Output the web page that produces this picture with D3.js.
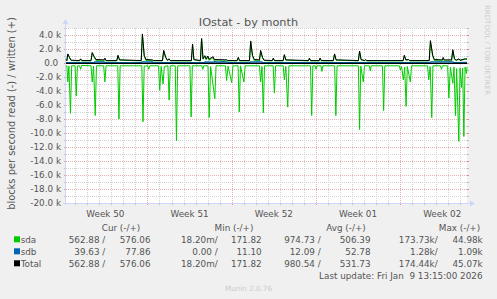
<!DOCTYPE html>
<html><head><meta charset="utf-8">
<script src="https://cdn.jsdelivr.net/npm/d3@7"></script>
<style>
body{margin:0;background:#F0F0F0}
svg{display:block}
text{font-family:"DejaVu Sans",sans-serif;fill:#555;white-space:pre}
</style></head>
<body><svg id="c" width="497" height="299"></svg>
<script>
// ---------- DATA (time in days since Sun 2025-12-07 00:00, values in k blocks/s) ----------
const weekLabels = ["Week 50","Week 51","Week 52","Week 01","Week 02"];
const weekMidDays = [3.5,10.5,17.5,24.5,31.5];
const yTickValues = [4,2,0,-2,-4,-6,-8,-10,-12,-14,-16,-18,-20];
const yTickLabels = ["4.0 k","2.0 k","0.0 ","-2.0 k","-4.0 k","-6.0 k","-8.0 k","-10.0 k","-12.0 k","-14.0 k","-16.0 k","-18.0 k","-20.0 k"];

// sda read (drawn negative)
const sdaRead = [[0.23,0.45],[0.30,0.40],[0.38,2.7],[0.47,0.45],[0.60,7.2],[0.70,0.40],[0.98,0.40],[1.08,4.7],[1.18,0.40],[1.36,0.40],[1.44,0.9],[1.52,0.35],
[2.31,0.40],[2.41,2.7],[2.52,0.45],[2.66,7.5],[2.76,0.40],[3.36,0.40],[3.46,2.7],[3.56,0.40],[4.53,0.40],[4.63,8.0],[4.73,0.40],
[6.53,0.40],[6.63,8.4],[6.73,0.45],[7.02,0.4],[7.10,0.9],[7.18,0.40],[7.92,0.40],[8.02,3.9],[8.14,0.5],[8.30,3.0],[8.40,0.5],[8.70,0.4],[8.80,5.3],[8.90,0.4],[9.31,0.40],[9.41,11.1],[9.51,0.40],
[10.53,0.40],[10.63,7.7],[10.73,0.40],[11.52,0.4],[11.60,0.9],[11.68,0.4],[12.03,0.40],[12.13,7.8],[12.25,0.5],[12.60,5.1],[12.70,0.4],[13.48,0.4],[13.58,2.5],[13.70,0.45],[14.00,2.8],[14.10,0.4],[14.53,0.4],[14.63,7.0],[14.73,0.4],[15.02,2.7],[15.12,0.4],
[16.31,0.4],[16.41,2.7],[16.52,0.5],[16.63,7.1],[16.73,0.4],[17.45,0.4],[17.55,4.3],[17.65,0.4],[18.28,0.4],[18.38,2.4],[18.50,0.5],[18.66,6.3],[18.76,0.4],
[20.55,0.4],[20.65,7.5],[20.75,0.4],[20.94,0.4],[21.02,0.9],[21.10,0.4],[21.42,0.4],[21.50,1.2],[21.58,0.4],[22.56,0.4],[22.66,7.5],[22.76,0.4],[24.53,0.4],[24.63,9.5],[24.73,0.45],[24.94,2.7],[25.04,0.4],[25.44,0.4],[25.52,1.1],[25.60,0.4],[26.53,0.4],[26.63,6.8],[26.73,0.4],
[27.94,0.4],[28.02,1.0],[28.12,0.5],[28.27,2.4],[28.38,0.6],[28.50,6.2],[28.60,0.5],[28.85,2.7],[28.95,0.4],
[30.28,0.4],[30.38,2.4],[30.50,0.5],[30.63,7.8],[30.73,0.4],[31.36,0.4],[31.44,0.9],[31.52,0.4],[31.95,0.4],[32.05,5.0],[32.18,0.6],[32.38,2.9],[32.48,0.6],[32.60,7.5],[32.70,0.8],[32.88,11.2],[32.98,0.7],[33.10,3.5],[33.20,0.7],[33.30,10.5],[33.40,0.6],[33.52,1.5],[33.56,0.56]];

// sda written (positive)
const sdaWrite = [[0.23,0.45],[0.30,0.30],[0.38,1.25],[0.52,0.75],[0.65,0.35],[1.36,0.30],[1.44,0.55],[1.54,0.30],[2.31,0.30],[2.41,1.45],[2.56,0.85],[2.72,0.35],[3.38,0.30],[3.46,0.55],[3.56,0.30],[4.45,0.30],[4.55,1.05],[4.68,0.40],
[6.48,0.30],[6.58,4.05],[6.73,0.95],[6.88,0.35],[8.25,0.30],[8.35,1.75],[8.52,0.75],[8.66,0.35],[8.80,0.55],[8.90,0.30],[10.65,0.30],[10.75,2.65],[10.86,0.45],[11.40,0.30],[11.50,3.45],[11.62,0.55],[11.77,0.95],[11.88,0.45],[12.02,0.85],[12.12,0.40],[12.46,0.75],[12.56,0.30],[14.45,0.30],[14.55,0.75],[14.65,0.30],
[15.48,0.30],[15.58,3.05],[15.73,0.95],[15.88,0.35],[16.31,0.30],[16.41,1.65],[16.56,0.75],[16.70,0.35],[17.38,0.30],[17.46,0.65],[17.56,0.30],[18.28,0.30],[18.38,1.15],[18.50,0.40],[20.38,0.30],[20.46,0.65],[20.56,0.30],[21.27,0.30],[21.35,0.65],[21.45,0.30],[22.45,0.30],[22.55,1.25],[22.68,0.40],[24.53,0.30],[24.63,1.65],[24.76,0.45],[25.05,0.30],[25.13,0.45],[25.21,0.30],[28.25,0.30],[28.35,1.05],[28.48,0.40],[28.71,0.45],[28.80,0.30],[30.42,0.30],[30.52,3.05],[30.71,0.95],[30.85,0.35],[31.50,0.30],[31.58,0.65],[31.66,0.30],[32.28,0.30],[32.38,1.75],[32.52,0.55],[32.66,0.35],[32.88,0.55],[32.98,0.35],[33.43,0.55],[33.56,0.50]];

// sdb read (negative) and written (positive)
const sdbRead = [[0.23,0.01],[12.0,0.01],[16.4,0.02],[33.56,0.04]];
const sdbWrite = [[0.23,0.04],[2.55,0.04],[2.62,0.15],[3.42,0.15],[3.50,0.04],[6.48,0.04],[6.55,0.16],[7.42,0.15],[7.50,0.04],[11.72,0.04],[11.80,0.15],[12.40,0.12],[12.60,0.20],[12.90,0.12],[13.30,0.20],[13.60,0.14],[13.68,0.04],[15.48,0.04],[15.55,0.15],[16.50,0.15],[16.58,0.04],[30.47,0.04],[30.55,0.16],[32.40,0.15],[32.48,0.04],[33.56,0.08]];

// Total written (positive)
const totalWrite = [[0.23,0.50],[0.30,0.35],[0.38,1.30],[0.52,0.80],[0.65,0.40],[1.36,0.35],[1.44,0.60],[1.54,0.35],[2.31,0.35],[2.41,1.50],[2.56,0.95],[2.72,0.50],[3.38,0.45],[3.46,0.70],[3.56,0.35],[4.45,0.35],[4.55,1.10],[4.68,0.45],
[6.48,0.35],[6.58,4.15],[6.73,1.10],[6.88,0.50],[7.42,0.45],[7.50,0.35],[8.25,0.35],[8.35,1.80],[8.52,0.80],[8.66,0.40],[8.80,0.60],[8.90,0.35],[10.65,0.35],[10.75,2.70],[10.86,0.50],[11.40,0.35],[11.50,3.50],[11.62,0.60],[11.77,1.05],[11.88,0.60],[12.02,1.00],[12.12,0.55],[12.46,0.90],[12.56,0.50],[13.60,0.45],[13.68,0.35],[14.45,0.35],[14.55,0.80],[14.65,0.35],
[15.48,0.35],[15.58,3.15],[15.73,1.10],[15.88,0.50],[16.31,0.45],[16.41,1.80],[16.56,0.80],[16.70,0.40],[17.38,0.35],[17.46,0.70],[17.56,0.35],[18.28,0.35],[18.38,1.20],[18.50,0.45],[20.38,0.35],[20.46,0.70],[20.56,0.35],[21.27,0.35],[21.35,0.70],[21.45,0.35],[22.45,0.35],[22.55,1.30],[22.68,0.45],[24.53,0.35],[24.63,1.70],[24.76,0.50],[25.05,0.35],[25.13,0.50],[25.21,0.35],[28.25,0.35],[28.35,1.10],[28.48,0.45],[28.71,0.50],[28.80,0.35],[30.42,0.35],[30.52,3.20],[30.71,1.10],[30.85,0.50],[31.50,0.45],[31.58,0.80],[31.66,0.45],[32.28,0.45],[32.38,1.90],[32.52,0.60],[32.66,0.40],[32.88,0.60],[32.98,0.40],[33.43,0.60],[33.56,0.58]];

// legend
const legendNames = ["sda","sdb","Total"];
const legendColors = ["#00CC00","#0066B3","#000000"];
const curRead = ["562.88 /","39.63 /","562.88 /"];
const curWrite = ["576.06","77.86","576.06"];
const minRead = ["18.20m/","0.00 /","18.20m/"];
const minWrite = ["171.82","11.10","171.82"];
const avgRead = ["974.73 /","12.09 /","980.54 /"];
const avgWrite = ["506.39","52.78","531.73"];
const maxRead = ["173.73k/","1.28k/","174.44k/"];
const maxWrite = ["44.98k","1.09k","45.07k"];
const legendHeaders = ["Cur (-/+)","Min (-/+)","Avg (-/+)","Max (-/+)"];

// ---------- DRAWING ----------
const dayBase = new Date(2025,11,7,0,0,0);
const toDate = d => new Date(dayBase.getTime() + d*86400000);
const svg = d3.select("#c");
const X0 = 66, X1 = 467, YT = 28, YB = 203;
const x = d3.scaleTime().domain([toDate(0.229), toDate(33.56)]).range([X0, X1]);
const y = d3.scaleLinear().domain([-20, 5]).range([YB, YT]);
const AXIS = "#CFD6F8", MINOR = "#D2D2D2", MAJOR = "#E8B0B0";

svg.append("rect").attr("x",X0).attr("y",YT).attr("width",X1-X0).attr("height",YB-YT).attr("fill","#fff");

const g = svg.append("g");
// horizontal grid
d3.range(-19, 6).forEach(k => {
  const major = k % 2 === 0;
  const yy = Math.round(y(k)) + 0.5;
  g.append("line").attr("x1",X0).attr("x2",X1).attr("y1",yy).attr("y2",yy)
    .attr("stroke", major ? MAJOR : MINOR).attr("stroke-dasharray","1,1");
  g.append("line").attr("x1",X0-2).attr("x2",X0).attr("y1",yy).attr("y2",yy).attr("stroke", major ? "#E09090":"#C0C0C0");
  g.append("line").attr("x1",X1).attr("x2",X1+2).attr("y1",yy).attr("y2",yy).attr("stroke", major ? "#E09090":"#C0C0C0");
});
// vertical grid
const days = d3.timeDay.range(x.domain()[0], x.domain()[1]);
days.forEach(dt => {
  const major = dt.getDay() === 0;
  const xx = Math.round(x(dt)) + 0.5;
  g.append("line").attr("x1",xx).attr("x2",xx).attr("y1",YT).attr("y2",YB)
    .attr("stroke", major ? MAJOR : MINOR).attr("stroke-dasharray","1,1");
  g.append("line").attr("x1",xx).attr("x2",xx).attr("y1",YB).attr("y2",YB+2).attr("stroke", major ? "#E09090":"#C0C0C0");
});

// axes
svg.append("line").attr("x1",X0-0.5).attr("x2",X0-0.5).attr("y1",YB+2).attr("y2",YT-6).attr("stroke",AXIS);
svg.append("path").attr("d",`M${X0-3.5},${YT-4} L${X0-0.5},${YT-9} L${X0+2.5},${YT-4} Z`).attr("fill",AXIS);
svg.append("line").attr("x1",X0-3).attr("x2",X1+4).attr("y1",YB+0.5).attr("y2",YB+0.5).attr("stroke",AXIS);
svg.append("path").attr("d",`M${X1+3},${YB-2.5} L${X1+8},${YB+0.5} L${X1+3},${YB+3.5} Z`).attr("fill",AXIS);

// lines
const lineNeg = d3.line().x(d => x(toDate(d[0]))).y(d => y(-d[1]));
const linePos = d3.line().x(d => x(toDate(d[0]))).y(d => y(d[1]));
const plot = svg.append("g");
plot.append("path").attr("d", lineNeg(sdaRead)).attr("fill","none").attr("stroke","#00CC00").attr("stroke-width",1);
plot.append("path").attr("d", linePos(sdaWrite)).attr("fill","none").attr("stroke","#00CC00").attr("stroke-width",1);
plot.append("path").attr("d", lineNeg(sdbRead)).attr("fill","none").attr("stroke","#0066B3").attr("stroke-width",1);
plot.append("path").attr("d", linePos(sdbWrite)).attr("fill","none").attr("stroke","#0066B3").attr("stroke-width",1.2);
plot.append("line").attr("x1",X0).attr("x2",X1).attr("y1",y(0)+0.3).attr("y2",y(0)+0.3).attr("stroke","#000").attr("stroke-width",1.3);
plot.append("path").attr("d", linePos(totalWrite)).attr("fill","none").attr("stroke","#000").attr("stroke-width",1);

// y tick labels
yTickValues.forEach((v,i) => {
  svg.append("text").attr("x",61).attr("y",y(v)+3.3).attr("text-anchor","end")
    .attr("font-size",8.8).text(yTickLabels[i]);
});
// week labels
weekLabels.forEach((w,i) => {
  svg.append("text").attr("x",x(toDate(weekMidDays[i]))).attr("y",216.5).attr("text-anchor","middle")
    .attr("font-size",8.8).text(w);
});

// title
svg.append("text").attr("x",248.5).attr("y",25.5).attr("text-anchor","middle").attr("font-size",11.3).text("IOstat - by month");
// y-axis label
svg.append("text").attr("transform","translate(15,113.5) rotate(-90)").attr("text-anchor","middle")
  .attr("font-size",9.9).text("blocks per second read (-) / written (+)");
// watermark
svg.append("text").attr("transform","translate(485,5) rotate(90)").attr("text-anchor","start")
  .attr("font-size",7).style("fill","#CCCCCC").text("RRDTOOL / TOBI OETIKER");

// legend
const hdrX = [121, 234, 346, 459.5];
legendHeaders.forEach((h,i) => svg.append("text").attr("x",hdrX[i]).attr("y",230.5).attr("text-anchor","middle").attr("font-size",8.8).text(h));
const colEnds = [105.3,150.5,217.7,261.7,320.7,370.5,437.7,482.7];
const cols = [curRead,curWrite,minRead,minWrite,avgRead,avgWrite,maxRead,maxWrite];
legendNames.forEach((n,r) => {
  const yy = 242.8 + r*12;
  svg.append("rect").attr("x",14).attr("y",yy-6.5).attr("width",6).attr("height",6).attr("fill",legendColors[r]);
  svg.append("text").attr("x",20.7).attr("y",yy).attr("font-size",8.8).text(n);
  cols.forEach((c,j) => svg.append("text").attr("x",colEnds[j]).attr("y",yy).attr("text-anchor","end").attr("font-size",8.8).text(c[r]));
});
svg.append("text").attr("x",482.5).attr("y",278.5).attr("text-anchor","end").attr("font-size",8.8).text("Last update: Fri Jan  9 13:15:00 2026");
svg.append("text").attr("x",248.5).attr("y",290.5).attr("text-anchor","middle").attr("font-size",7.2).style("fill","#CCCCCC").text("Munin 2.0.76");
</script></body></html>
